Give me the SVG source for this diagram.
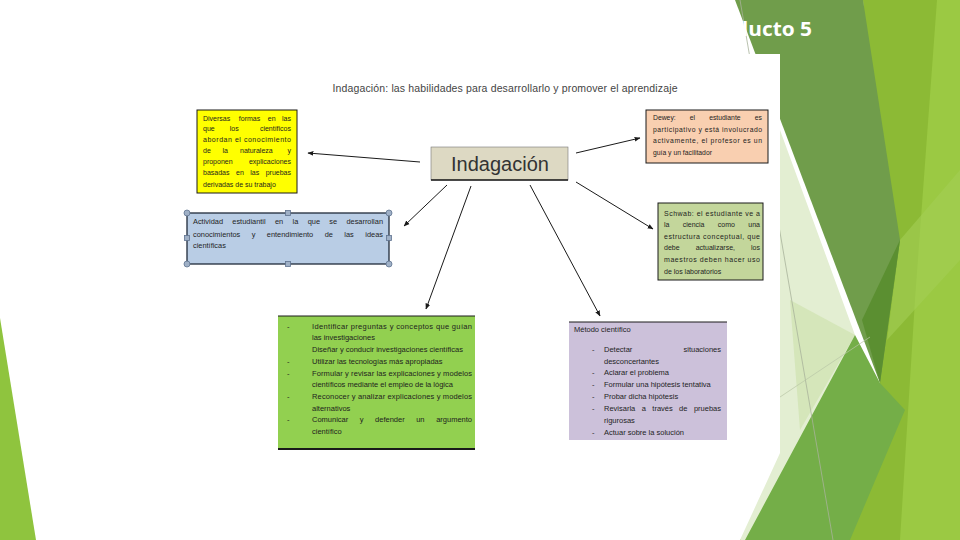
<svg xmlns="http://www.w3.org/2000/svg" width="960" height="540" viewBox="0 0 960 540">
<defs>
<style>
.t{font-family:"Liberation Sans",Arial,sans-serif;fill:#1e1e1e}
.s7{font-size:7px}.s68{font-size:6.8px}.s74{font-size:7.4px}.s75{font-size:7.5px}
.box{stroke:#1a1a1a;stroke-width:1}
.conn{stroke:#1a1a1a;stroke-width:1;fill:none;marker-end:url(#ah)}
.hc{fill:#9fb0c6;stroke:#5f7390;stroke-width:0.8}
</style>
<marker id="ah" viewBox="0 0 10 10" refX="9" refY="5" markerWidth="6" markerHeight="6" orient="auto" markerUnits="userSpaceOnUse">
<path d="M0,1 L10,5 L0,9 Z" fill="#1a1a1a"/>
</marker>
</defs>
<rect width="960" height="540" fill="#ffffff"/>
<g id="background">
<polygon points="0,318 36,540 0,540" fill="#8fc43e"/>
<polygon points="863,0 960,0 960,540 740,540 880,383" fill="#8cba35"/>
<polygon points="937,0 960,0 960,540 900,540 915,300" fill="#9bc943"/>
<polygon points="900,240 960,170 960,260 887,340" fill="#a3ce55" opacity="0.6"/>
<polygon points="735,0 863,0 900,240 880,383" fill="#709d4b"/>
<polygon points="862,320 900,240 880,383" fill="#5b8f31"/>
<polygon points="780,130 855,335 760,540 740,540 780,453" fill="#e3eed2"/>
<polygon points="790,300 855,335 800,430" fill="#cfe2af" opacity="0.7"/>
<polygon points="745,540 855,335 880,383 905,410 850,540" fill="#74ae48"/>
<line x1="740" y1="0" x2="833" y2="540" stroke="#a8b39a" stroke-width="0.8"/>
<line x1="780" y1="397" x2="870" y2="337" stroke="#b9c6a6" stroke-width="0.7"/>
<text x="735" y="36" font-family="'Open Sans','Liberation Sans',sans-serif" font-size="19" font-weight="bold" fill="#ffffff" textLength="77" lengthAdjust="spacingAndGlyphs">ducto 5</text>
</g>
<rect x="150" y="54" width="630" height="399" fill="#ffffff"/>
<text class="t" x="505" y="92" font-size="10.5" text-anchor="middle" textLength="345" lengthAdjust="spacing" style="fill:#444">Indagación: las habilidades para desarrollarlo y promover el aprendizaje</text>

<g id="connectors">
<line class="conn" x1="420" y1="162" x2="308" y2="153"/>
<line class="conn" x1="576" y1="153" x2="640" y2="138"/>
<line class="conn" x1="447" y1="185" x2="404" y2="226"/>
<line class="conn" x1="471" y1="186" x2="426" y2="309"/>
<line class="conn" x1="530" y1="185" x2="600" y2="316"/>
<line class="conn" x1="576" y1="182" x2="653" y2="229"/>
</g>

<g id="indagacion">
<rect x="431" y="147" width="137" height="33" fill="#ddd9c3" stroke="#777" stroke-width="0.6"/>
<line x1="431" y1="180" x2="568" y2="180" stroke="#1a1a1a" stroke-width="1.6"/>
<text class="t" x="500" y="171" font-size="20" text-anchor="middle" style="fill:#333">Indagación</text>
</g>

<g id="yellow">
<rect class="box" x="197" y="110" width="100" height="83" fill="#ffff00"/>
<text class="t s7" y="120.6"><tspan x="203">Diversas</tspan><tspan x="238.8">formas</tspan><tspan x="267.8">en</tspan><tspan x="291" text-anchor="end">las</tspan></text>
<text class="t s7" y="131.3"><tspan x="203">que</tspan><tspan x="229.8">los</tspan><tspan x="291" text-anchor="end">científicos</tspan></text>
<text class="t s7" x="203" y="142" textLength="88" lengthAdjust="spacing">abordan el conocimiento</text>
<text class="t s7" y="153"><tspan x="203">de</tspan><tspan x="222.5">la</tspan><tspan x="240">naturaleza</tspan><tspan x="291" text-anchor="end">y</tspan></text>
<text class="t s7" y="164"><tspan x="203">proponen</tspan><tspan x="291" text-anchor="end">explicaciones</tspan></text>
<text class="t s7" y="175.3"><tspan x="203">basadas</tspan><tspan x="236">en</tspan><tspan x="250.3">las</tspan><tspan x="291" text-anchor="end">pruebas</tspan></text>
<text class="t s7" x="203" y="186.6">derivadas de su trabajo</text>
</g>

<g id="dewey">
<rect class="box" x="646" y="110" width="122" height="53" fill="#f9cfb0"/>
<text class="t s68" y="119.5"><tspan x="653">Dewey:</tspan><tspan x="689.8">el</tspan><tspan x="709.2">estudiante</tspan><tspan x="762" text-anchor="end">es</tspan></text>
<text class="t s68" x="653" y="131.5" textLength="109" lengthAdjust="spacing">participativo y está involucrado</text>
<text class="t s68" x="653" y="143" textLength="109" lengthAdjust="spacing">activamente, el profesor es un</text>
<text class="t s68" x="653" y="154.5">guía y un facilitador</text>
</g>

<g id="actividad">
<rect x="187" y="213" width="202" height="51" fill="#b9cde5" stroke="#1f2a3a" stroke-width="1.3"/>
<text class="t s74" y="224"><tspan x="193">Actividad</tspan><tspan x="232.3">estudiantil</tspan><tspan x="275">en</tspan><tspan x="292.5">la</tspan><tspan x="307.7">que</tspan><tspan x="329.3">se</tspan><tspan x="383" text-anchor="end">desarrollan</tspan></text>
<text class="t s74" y="237"><tspan x="193">conocimientos</tspan><tspan x="251.7">y</tspan><tspan x="266.8">entendimiento</tspan><tspan x="324.7">de</tspan><tspan x="344.3">las</tspan><tspan x="383" text-anchor="end">ideas</tspan></text>
<text class="t s74" x="193" y="248">científicas</text>
<circle class="hc" cx="187" cy="213" r="3"/>
<circle class="hc" cx="389" cy="213" r="3"/>
<circle class="hc" cx="187" cy="264" r="3"/>
<circle class="hc" cx="389" cy="264" r="3"/>
<rect class="hc" x="285.5" y="210.5" width="5" height="5"/>
<rect class="hc" x="285.5" y="261.5" width="5" height="5"/>
<rect class="hc" x="184.5" y="235.5" width="5" height="5"/>
<rect class="hc" x="386.5" y="235.5" width="5" height="5"/>
</g>

<g id="schwab">
<rect class="box" x="658" y="203" width="105" height="77" fill="#c3d69b"/>
<text class="t s7" x="664" y="215.5" textLength="96" lengthAdjust="spacing">Schwab: el estudiante ve a</text>
<text class="t s7" y="227"><tspan x="664">la</tspan><tspan x="682.7">ciencia</tspan><tspan x="717.8">como</tspan><tspan x="760" text-anchor="end">una</tspan></text>
<text class="t s7" x="664" y="238.7" textLength="96" lengthAdjust="spacing">estructura conceptual, que</text>
<text class="t s7" y="250.3"><tspan x="664">debe</tspan><tspan x="695.7">actualizarse,</tspan><tspan x="760" text-anchor="end">los</tspan></text>
<text class="t s7" x="664" y="262" textLength="96" lengthAdjust="spacing">maestros deben hacer uso</text>
<text class="t s7" x="664" y="273.5">de los laboratorios</text>
</g>

<g id="habilidades">
<rect x="278" y="316" width="197" height="133" fill="#92d050"/>
<line x1="278" y1="316" x2="475" y2="316" stroke="#1a1a1a" stroke-width="1"/>
<line x1="278" y1="449" x2="475" y2="449" stroke="#1a1a1a" stroke-width="2"/>
<text class="t s75" x="287" y="328.7">-</text>
<text class="t s75" x="312" y="328.7" textLength="160" lengthAdjust="spacing">Identificar preguntas y conceptos que guían</text>
<text class="t s75" x="312" y="340.4">las investigaciones</text>
<text class="t s75" x="312" y="352.1">Diseñar y conducir investigaciones científicas</text>
<text class="t s75" x="287" y="363.8">-</text>
<text class="t s75" x="312" y="363.8">Utilizar las tecnologías más apropiadas</text>
<text class="t s75" x="287" y="375.5">-</text>
<text class="t s75" x="312" y="375.5" textLength="160" lengthAdjust="spacing">Formular y revisar las explicaciones y modelos</text>
<text class="t s75" x="312" y="387.2">científicos mediante el empleo de la lógica</text>
<text class="t s75" x="287" y="398.9">-</text>
<text class="t s75" x="312" y="398.9" textLength="160" lengthAdjust="spacing">Reconocer y analizar explicaciones y modelos</text>
<text class="t s75" x="312" y="410.6">alternativos</text>
<text class="t s75" x="287" y="422.3">-</text>
<text class="t s75" y="422.3"><tspan x="312">Comunicar</tspan><tspan x="359.8">y</tspan><tspan x="375.1">defender</tspan><tspan x="416.2">un</tspan><tspan x="472" text-anchor="end">argumento</tspan></text>
<text class="t s75" x="312" y="434">científico</text>
</g>

<g id="metodo">
<rect x="569" y="322" width="158" height="118" fill="#ccc1da"/>
<line x1="569" y1="322" x2="727" y2="322" stroke="#1a1a1a" stroke-width="1"/>
<text class="t s75" x="574" y="331.7">Método científico</text>
<text class="t s75" x="592" y="351.7">-</text>
<text class="t s75" y="351.7"><tspan x="604">Detectar</tspan><tspan x="721" text-anchor="end">situaciones</tspan></text>
<text class="t s75" x="604" y="363.7">desconcertantes</text>
<text class="t s75" x="592" y="374.7">-</text>
<text class="t s75" x="604" y="374.7">Aclarar el problema</text>
<text class="t s75" x="592" y="386.7">-</text>
<text class="t s75" x="604" y="386.7">Formular una hipótesis tentativa</text>
<text class="t s75" x="592" y="398.7">-</text>
<text class="t s75" x="604" y="398.7">Probar dicha hipótesis</text>
<text class="t s75" x="592" y="410.7">-</text>
<text class="t s75" y="410.7"><tspan x="604">Revisarla</tspan><tspan x="641.7">a</tspan><tspan x="652.3">través</tspan><tspan x="679.1">de</tspan><tspan x="721" text-anchor="end">pruebas</tspan></text>
<text class="t s75" x="604" y="422.7">rigurosas</text>
<text class="t s75" x="592" y="434.7">-</text>
<text class="t s75" x="604" y="434.7">Actuar sobre la solución</text>
</g>
</svg>
